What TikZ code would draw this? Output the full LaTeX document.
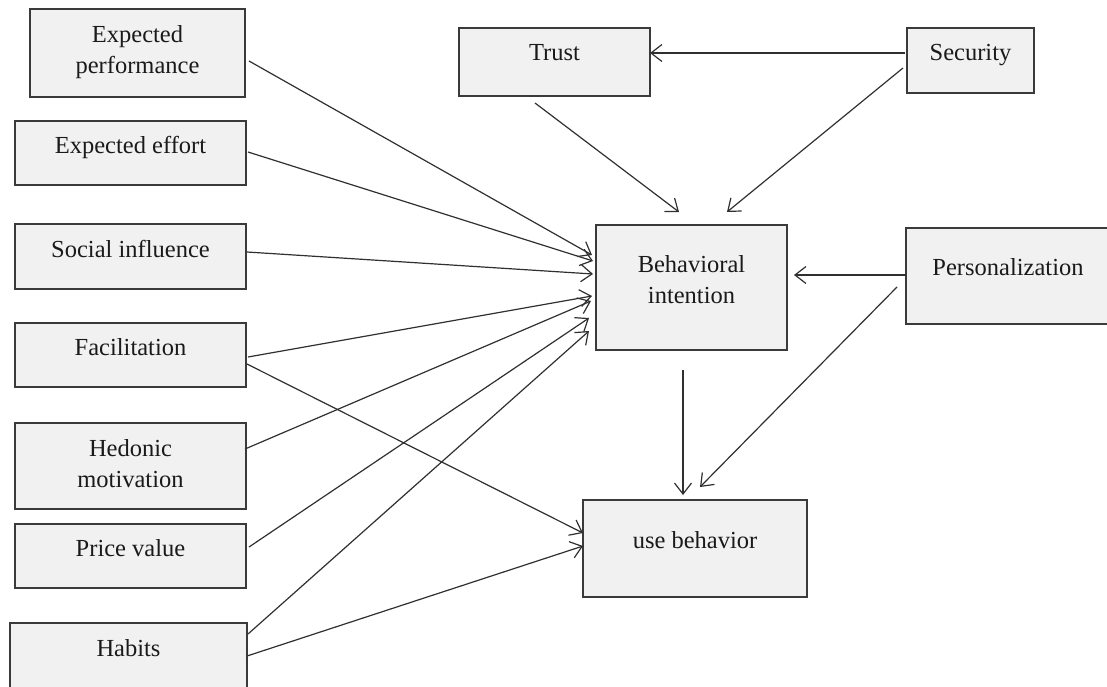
\documentclass[tikz,border=0pt]{standalone}
\usepackage{fontspec}
\setmainfont{Liberation Serif}
\usetikzlibrary{arrows.meta}
\definecolor{boxc}{HTML}{3A3A3A}
\definecolor{boxf}{HTML}{F1F1F1}
\definecolor{linec}{HTML}{303030}
\definecolor{txtc}{HTML}{1A1A1A}
\begin{document}
\begin{tikzpicture}[x=1pt,y=-1pt,
  box/.style={draw=boxc, fill=boxf, line width=1.2pt, inner sep=0pt, outer sep=0pt, anchor=north west},
  txt/.style={font=\fontsize{24.5}{31}\selectfont, text=txtc, inner sep=0pt, align=center, anchor=base},
  arr/.style={draw=linec, line width=1.2pt, -{Straight Barb[length=11pt,width=17pt]}}]
\useasboundingbox[fill=white] (0,0) rectangle (1107,686);
% boxes
\node[box, minimum width=215pt, minimum height=88pt] (ep) at (30,9) {};
\node[box, minimum width=231pt, minimum height=64pt] (ee) at (15,121) {};
\node[box, minimum width=231pt, minimum height=65pt] (si) at (15,224) {};
\node[box, minimum width=231pt, minimum height=64pt] (fa) at (15,323) {};
\node[box, minimum width=231pt, minimum height=86pt] (hm) at (15,423) {};
\node[box, minimum width=231pt, minimum height=64pt] (pv) at (15,524) {};
\node[box, minimum width=237pt, minimum height=90pt] (ha) at (10,623) {};
\node[box, minimum width=191pt, minimum height=68pt] (tr) at (459,28) {};
\node[box, minimum width=127pt, minimum height=65pt] (se) at (907,28) {};
\node[box, minimum width=191pt, minimum height=125pt] (bi) at (596,225) {};
\node[box, minimum width=214pt, minimum height=96pt] (pe) at (906,228) {};
\node[box, minimum width=224pt, minimum height=97pt] (ub) at (583,500) {};
% texts (anchor base = baseline of the last line)
\node[txt] (tep) at ([yshift=-64pt]ep.north) {Expected\\performance};
\node[txt] (tee) at ([yshift=-32pt]ee.north) {Expected effort};
\node[txt] (tsi) at ([yshift=-33pt]si.north) {Social influence};
\node[txt] (tfa) at ([yshift=-32pt]fa.north) {Facilitation};
\node[txt] (thm) at ([yshift=-64pt]hm.north) {Hedonic\\motivation};
\node[txt] (tpv) at ([yshift=-32pt]pv.north) {Price value};
\node[txt] (tha) at ([yshift=-33pt]ha.north) {Habits};
\node[txt] (ttr) at ([yshift=-32pt]tr.north) {Trust};
\node[txt] (tse) at ([yshift=-32pt]se.north) {Security};
\node[txt] (tbi) at ([yshift=-78pt]bi.north) {Behavioral\\intention};
\node[txt] (tpe) at ([yshift=-47pt,xshift=-5pt]pe.north) {Personalization};
\node[txt] (tub) at ([yshift=-48pt]ub.north) {use behavior};
% connectors to behavioral intention
\draw[arr] ([shift={(4pt,-52pt)}]ep.north east) -- ([shift={(-4pt,-30pt)}]bi.north west);
\draw[arr] ([shift={(2pt,-31pt)}]ee.north east) -- ([shift={(-3pt,-36pt)}]bi.north west);
\draw[arr] ([shift={(1pt,-28pt)}]si.north east) -- ([shift={(-3pt,-49pt)}]bi.north west);
\draw[arr] ([shift={(2pt,-34pt)}]fa.north east) -- ([shift={(-4pt,-71pt)}]bi.north west);
\draw[arr] ([shift={(-1pt,-26pt)}]hm.north east) -- ([shift={(-5pt,-76pt)}]bi.north west);
\draw[arr] ([shift={(3pt,-23pt)}]pv.north east) -- ([shift={(-7pt,-93pt)}]bi.north west);
\draw[arr] ([shift={(1pt,-11pt)}]ha.north east) -- ([shift={(-7pt,-106pt)}]bi.north west);
% connectors to use behavior
\draw[arr] ([shift={(1pt,-41pt)}]fa.north east) -- ([shift={(0pt,-33pt)}]ub.north west);
\draw[arr] ([shift={(0pt,-33pt)}]ha.north east) -- ([shift={(0pt,-46pt)}]ub.north west);
% right side
\draw[arr] ([shift={(-2pt,-25pt)}]se.north west) -- ([shift={(0pt,-25pt)}]tr.north east);
\draw[arr] ([shift={(76pt,-7pt)}]tr.south west) -- ([shift={(83pt,13pt)}]bi.north west);
\draw[arr] ([shift={(-4pt,-40pt)}]se.north west) -- ([shift={(131pt,13pt)}]bi.north west);
\draw[arr] ([shift={(0pt,-47pt)}]pe.north west) -- ([shift={(7pt,-50pt)}]bi.north east);
\draw[arr] ([shift={(-9pt,-59pt)}]pe.north west) -- ([shift={(117pt,13pt)}]ub.north west);
\draw[arr] ([shift={(87pt,-20pt)}]bi.south west) -- ([shift={(100pt,5pt)}]ub.north west);
\end{tikzpicture}
\end{document}
